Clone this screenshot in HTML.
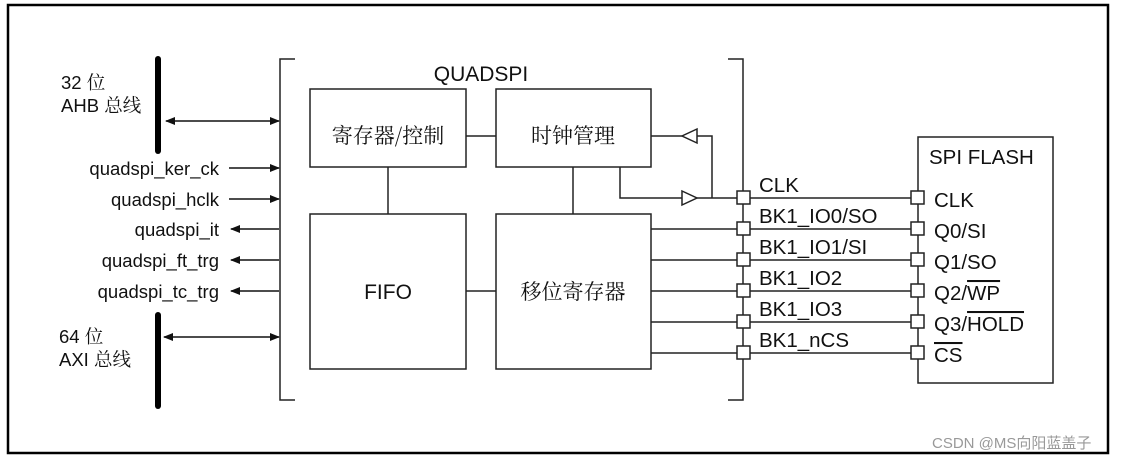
<!DOCTYPE html>
<html><head><meta charset="utf-8"><style>
html,body{margin:0;padding:0;background:#fff;width:1122px;height:463px;overflow:hidden}
svg{display:block}
text{font-family:"Liberation Sans","Noto Sans CJK SC",sans-serif;fill:#111}
.cj{font-family:"Noto Serif CJK SC","Noto Sans CJK SC",serif}
</style></head><body>
<svg width="1122" height="463" viewBox="0 0 1122 463" xmlns="http://www.w3.org/2000/svg">
<defs>
<marker id="ah" markerWidth="10" markerHeight="8" refX="9" refY="4" orient="auto" markerUnits="userSpaceOnUse"><path d="M0,0 L10,4 L0,8 Z" fill="#111"/></marker>
<marker id="as" markerWidth="10" markerHeight="8" refX="1" refY="4" orient="auto" markerUnits="userSpaceOnUse"><path d="M10,0 L0,4 L10,8 Z" fill="#111"/></marker>
</defs>
<rect x="8" y="5" width="1100" height="448" fill="none" stroke="#000" stroke-width="2.5"/>
<g stroke="#222" stroke-width="1.5" fill="none">
<path d="M295,59 H280 V400 H295"/>
<path d="M728,59 H743 V400 H728"/>
<rect x="310" y="89" width="156" height="78"/>
<rect x="496" y="89" width="155" height="78"/>
<rect x="310" y="214" width="156" height="155"/>
<rect x="496" y="214" width="155" height="155"/>
<line x1="466" y1="136" x2="496" y2="136"/>
<line x1="466" y1="291" x2="496" y2="291"/>
<line x1="388" y1="167" x2="388" y2="214"/>
<line x1="573" y1="167" x2="573" y2="214"/>
<line x1="651" y1="136" x2="682" y2="136"/>
<path d="M697,129 L682,136 L697,143 Z" fill="#fff"/>
<path d="M697,136 H712 V198"/>
<path d="M620,167 V198 H682"/>
<path d="M682,191 L697,198 L682,205 Z" fill="#fff"/>
<line x1="697" y1="198" x2="737" y2="198"/>
<line x1="750" y1="198" x2="911" y2="198"/>
<line x1="651" y1="229" x2="911" y2="229"/>
<line x1="651" y1="260" x2="911" y2="260"/>
<line x1="651" y1="291" x2="911" y2="291"/>
<line x1="651" y1="322" x2="911" y2="322"/>
<line x1="651" y1="353" x2="911" y2="353"/>
<rect x="918" y="137" width="135" height="246"/>
</g>
<g stroke="#222" stroke-width="1.5" fill="#fff">
<rect x="737" y="191" width="13" height="13"/><rect x="737" y="222" width="13" height="13"/><rect x="737" y="253" width="13" height="13"/><rect x="737" y="284" width="13" height="13"/><rect x="737" y="315" width="13" height="13"/><rect x="737" y="346" width="13" height="13"/>
<rect x="911" y="191" width="13" height="13"/><rect x="911" y="222" width="13" height="13"/><rect x="911" y="253" width="13" height="13"/><rect x="911" y="284" width="13" height="13"/><rect x="911" y="315" width="13" height="13"/><rect x="911" y="346" width="13" height="13"/>
</g>
<line x1="158" y1="59" x2="158" y2="151" stroke="#000" stroke-width="6" stroke-linecap="round"/>
<line x1="158" y1="315" x2="158" y2="406" stroke="#000" stroke-width="6" stroke-linecap="round"/>
<g stroke="#111" stroke-width="1.5">
<line x1="166" y1="121" x2="279" y2="121" marker-start="url(#as)" marker-end="url(#ah)"/>
<line x1="164" y1="337" x2="279" y2="337" marker-start="url(#as)" marker-end="url(#ah)"/>
<line x1="229" y1="168" x2="279" y2="168" marker-end="url(#ah)"/>
<line x1="229" y1="199" x2="279" y2="199" marker-end="url(#ah)"/>
<line x1="279" y1="229" x2="231" y2="229" marker-end="url(#ah)"/>
<line x1="279" y1="260" x2="231" y2="260" marker-end="url(#ah)"/>
<line x1="279" y1="291" x2="231" y2="291" marker-end="url(#ah)"/>
</g>
<g font-size="18.5">
<text x="61" y="89">32 <tspan class="cj">位</tspan></text>
<text x="61" y="112">AHB <tspan class="cj">总线</tspan></text>
<text x="59" y="343">64 <tspan class="cj">位</tspan></text>
<text x="59" y="366">AXI <tspan class="cj">总线</tspan></text>
<g text-anchor="end">
<text x="219" y="175">quadspi_ker_ck</text>
<text x="219" y="206">quadspi_hclk</text>
<text x="219" y="236">quadspi_it</text>
<text x="219" y="267">quadspi_ft_trg</text>
<text x="219" y="298">quadspi_tc_trg</text>
</g>
</g>
<text x="481" y="81" font-size="21" text-anchor="middle">QUADSPI</text>
<text x="388" y="143" font-size="21" text-anchor="middle" class="cj">寄存器/控制</text>
<text x="573" y="143" font-size="21" text-anchor="middle" class="cj">时钟管理</text>
<text x="388" y="299" font-size="21" text-anchor="middle">FIFO</text>
<text x="573" y="299" font-size="21" text-anchor="middle" class="cj">移位寄存器</text>
<g font-size="20.5">
<text x="759" y="192">CLK</text>
<text x="759" y="223">BK1_IO0/SO</text>
<text x="759" y="254">BK1_IO1/SI</text>
<text x="759" y="285">BK1_IO2</text>
<text x="759" y="316">BK1_IO3</text>
<text x="759" y="347">BK1_nCS</text>
<text x="929" y="164">SPI FLASH</text>
<text x="934" y="207">CLK</text>
<text x="934" y="238">Q0/SI</text>
<text x="934" y="269">Q1/SO</text>
<text x="934" y="300">Q2/<tspan text-decoration="overline">WP</tspan></text>
<text x="934" y="331">Q3/<tspan text-decoration="overline">HOLD</tspan></text>
<text x="934" y="362"><tspan text-decoration="overline">CS</tspan></text>
</g>
<text x="932" y="448" font-size="15" style="fill:#999">CSDN @MS向阳蓝盖子</text>
</svg>
</body></html>
